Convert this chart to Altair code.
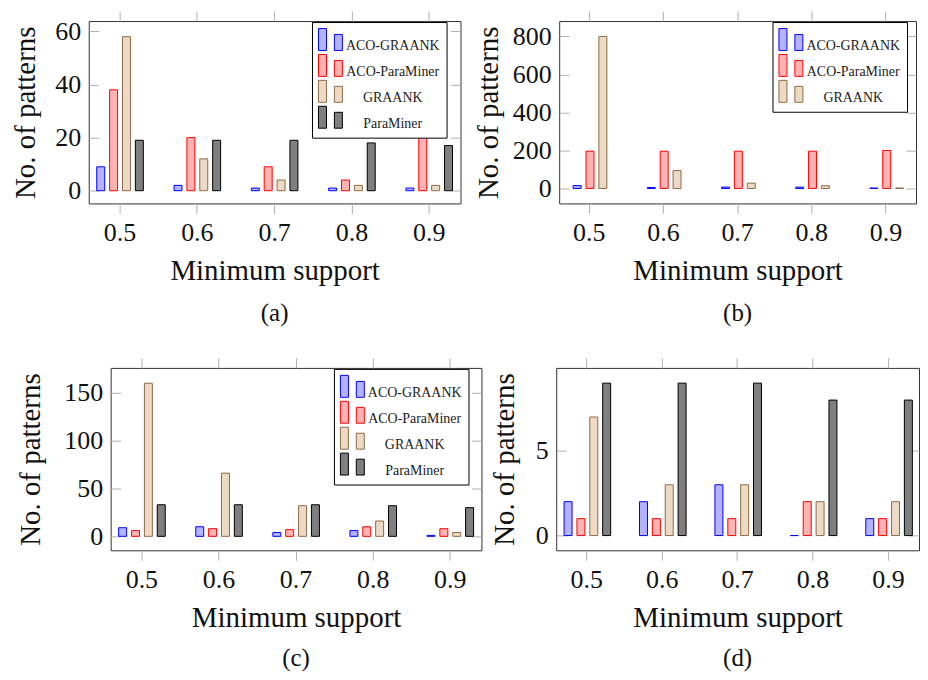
import altair as alt
import pandas as pd

support = ["0.5", "0.6", "0.7", "0.8", "0.9"]
series4 = ["ACO-GRAANK", "ACO-ParaMiner", "GRAANK", "ParaMiner"]
series3 = ["ACO-GRAANK", "ACO-ParaMiner", "GRAANK"]

fill_colors = {"ACO-GRAANK": "#b3b3ff", "ACO-ParaMiner": "#ffb3b3", "GRAANK": "#ecdac6", "ParaMiner": "#7f7f7f"}
stroke_colors = {"ACO-GRAANK": "#0000ff", "ACO-ParaMiner": "#ff0000", "GRAANK": "#8f6a45", "ParaMiner": "#000000"}

# panel (a)
a_aco_graank = [9, 2, 1, 1, 1]
a_aco_paraminer = [38, 20, 9, 4, 30]
a_graank = [58, 12, 4, 2, 2]
a_paraminer = [19, 19, 19, 18, 17]
# panel (b)
b_aco_graank = [15, 5, 7, 7, 2]
b_aco_paraminer = [196, 196, 196, 196, 200]
b_graank = [800, 94, 28, 14, 2]
# panel (c)
c_aco_graank = [9, 10, 4, 6, 1]
c_aco_paraminer = [6, 8, 7, 10, 8]
c_graank = [160, 66, 32, 16, 4]
c_paraminer = [33, 33, 33, 32, 30]
# panel (d)
d_aco_graank = [2, 2, 3, 0, 1]
d_aco_paraminer = [1, 1, 1, 2, 1]
d_graank = [7, 3, 3, 2, 2]
d_paraminer = [9, 9, 9, 8, 8]

FONT = "'Liberation Serif', 'DejaVu Serif', serif"
TICK_COLOR = "#b0b0b0"
H = 183
SYMBOL = "M-1,-1H-0.27V1H-1Z M0.45,-0.45H1.18V1H0.45Z"


def make_df(series, cols):
    rows = []
    for s, vals in zip(series, cols):
        for sup, v in zip(support, vals):
            rows.append({"support": sup, "series": s, "value": v})
    return pd.DataFrame(rows)


def spacer(w):
    return alt.Chart(pd.DataFrame({"v": [0]})).mark_point(
        opacity=0, size=0, strokeWidth=0
    ).encode(
        x=alt.value(0), y=alt.value(0)
    ).properties(width=w, height=1, view=alt.ViewBackground(stroke="transparent"))


def panel(series, cols, domain, ticks, caption, legend_x, pad_inner, pad_outer,
          title_pad, width, cap_offset):
    df = make_df(series, cols)
    base = alt.Chart(df)
    fills = [fill_colors[s] for s in series]
    strokes = [stroke_colors[s] for s in series]
    if legend_x is not None:
        leg = alt.Legend(
            title=None, orient="none", legendX=legend_x, legendY=1,
            fillColor="white", strokeColor="black", padding=6, labelFont=FONT,
            labelFontSize=14, labelColor="#222222", labelAlign="center",
            labelBaseline="top", labelOffset=52, symbolType=SYMBOL,
            symbolSize=484, symbolStrokeWidth=1, rowPadding=-4, symbolOpacity=1,
        )
    else:
        leg = None
    xenc = alt.X(
        "support:N", sort=support,
        scale=alt.Scale(paddingInner=pad_inner, paddingOuter=pad_outer),
        axis=alt.Axis(title="Minimum support", orient="bottom", domain=False,
                      tickSize=10, tickColor=TICK_COLOR, labelFont=FONT,
                      labelFontSize=26, labelColor="#111111", labelPadding=6,
                      labelAngle=0, titleFont=FONT, titleFontSize=29,
                      titleFontWeight="normal", titleColor="#111111",
                      titlePadding=11),
    )
    yenc = alt.Y(
        "value:Q",
        scale=alt.Scale(domain=domain, nice=False, zero=False),
        axis=alt.Axis(title="No. of patterns", orient="left", offset=-10,
                      values=ticks, domain=False, grid=False, tickSize=10,
                      tickColor=TICK_COLOR, labelFont=FONT, labelFontSize=26,
                      labelColor="#111111", labelPadding=8, titleFont=FONT,
                      titleFontSize=29, titleFontWeight="normal",
                      titleColor="#111111", titlePadding=title_pad),
    )
    bars = base.mark_bar(strokeWidth=1).encode(
        x=xenc,
        xOffset=alt.XOffset("series:N", sort=series,
                            scale=alt.Scale(paddingInner=0.38, paddingOuter=0.19)),
        y=yenc,
        y2=alt.datum(0),
        fill=alt.Fill("series:N", sort=series,
                      scale=alt.Scale(domain=series, range=fills), legend=leg),
        stroke=alt.Stroke("series:N", sort=series,
                          scale=alt.Scale(domain=series, range=strokes), legend=leg),
    )
    frame_axes = base.mark_point(opacity=0).encode(
        x=alt.X("support:N", sort=support,
                axis=alt.Axis(orient="top", labels=False, title=None, domain=False,
                              tickSize=10, tickColor=TICK_COLOR)),
        y=alt.Y("value:Q",
                axis=alt.Axis(orient="right", offset=-10, labels=False, title=None,
                              values=ticks, domain=False, grid=False, tickSize=10,
                              tickColor=TICK_COLOR)),
    )
    return alt.layer(bars, frame_axes).resolve_axis(
        x="independent", y="independent"
    ).properties(
        width=width, height=H,
        title=alt.TitleParams(caption, orient="bottom", font=FONT, fontSize=25,
                              fontWeight="normal", color="#111111",
                              offset=cap_offset),
    )


pa = panel(series4, [a_aco_graank, a_aco_paraminer, a_graank, a_paraminer],
           [-4.8, 63.9], [0, 20, 40, 60], "(a)", 224, 0.334, 0.072, 14, 373, 16)
pb = panel(series3, [b_aco_graank, b_aco_paraminer, b_graank],
           [-79, 881], [0, 200, 400, 600, 800], "(b)", 214, 0.5, 0.155, 8.5, 358, 16)
pc = panel(series4, [c_aco_graank, c_aco_paraminer, c_graank, c_paraminer],
           [-14.6, 176], [0, 50, 100, 150], "(c)", 224, 0.334, 0.072, 18, 372, 14)
pd_ = panel(series4, [d_aco_graank, d_aco_paraminer, d_graank, d_paraminer],
            [-0.87, 9.9], [0, 5], "(d)", None, 0.334, 0.072, 15.5, 364, 14)

top = alt.hconcat(spacer(1), pa, spacer(11.5), pb, spacing=0).resolve_scale(
    fill="independent", stroke="independent")
bottom = alt.hconcat(spacer(6), pc, spacer(6.5), pd_, spacing=0).resolve_scale(
    fill="independent", stroke="independent")

chart = alt.vconcat(top, bottom, spacing=30).resolve_scale(
    fill="independent", stroke="independent"
).properties(padding={"left": 0, "top": 1, "right": 0, "bottom": 0}).configure(
    background="white",
    view=alt.ViewConfig(stroke="#333333", strokeWidth=1),
)

chart.save("out.html", embed_options={"renderer": "svg", "actions": False})
